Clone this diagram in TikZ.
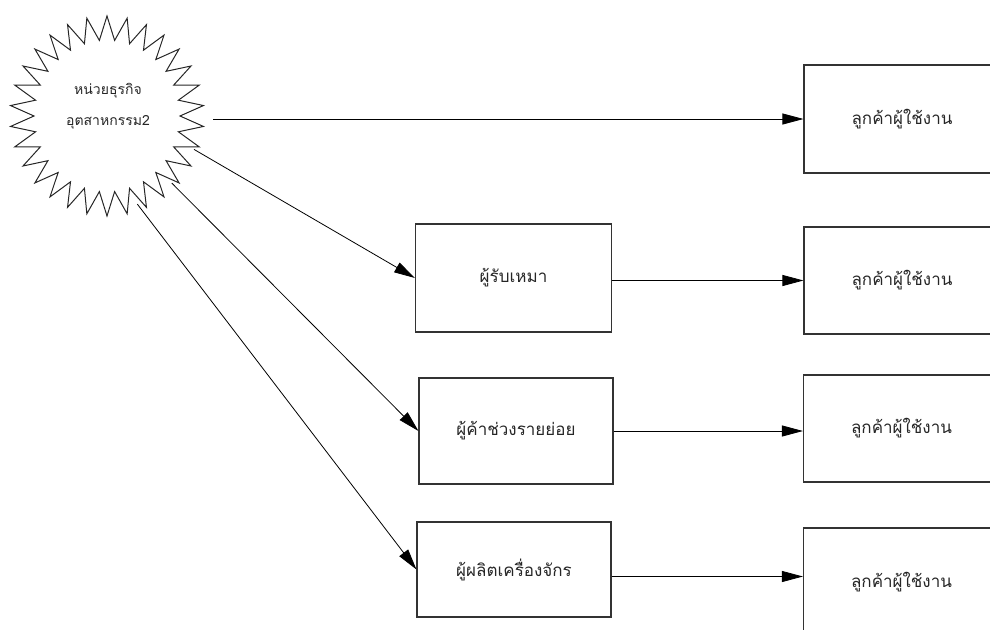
\documentclass[tikz,border=0pt]{standalone}
\usepackage{fontspec}
\newfontfamily\thaifont[Script=Thai]{Loma}
\usetikzlibrary{arrows.meta}

\begin{document}
\begin{tikzpicture}[x=1pt,y=-1pt,
    boxstyle/.style={draw=black!80,line width=1.1pt,rectangle,minimum width=196pt,
      minimum height=107pt,inner sep=0pt,font=\thaifont\fontsize{17}{20}\selectfont,text=black!85},
    burst/.style={draw=black!85,line width=1pt},
    arr/.style={draw=black,line width=0.8pt,-{Triangle[length=21pt,width=11pt]}}]
  \useasboundingbox (0,0) rectangle (990,629);
  \clip (0,0) rectangle (990,629);

  % hub: a sun-like burst (30 points) with two lines of text
  \node[circle,minimum size=186pt,inner sep=0pt] (hub) at (107,116) {};
  \begin{scope}[shift={(hub.center)}]
    \draw[burst] (0,-100)
      \foreach \k in {1,...,59} {
        -- ({(97-24*mod(\k,2))*cos(90+\k*6)},{-(100-24*mod(\k,2))*sin(90+\k*6)}) } -- cycle;
  \end{scope}
  \node[align=center,inner sep=0pt,text=black!85,
        font=\thaifont\fontsize{14}{31}\selectfont] (hubtext) at (108,106)
        {หน่วยธุรกิจ\\อุตสาหกรรม2};
  \coordinate (hubout) at (213,119);

  % intermediaries
  \node[boxstyle,minimum height=108pt] (m2) at (513.5,278) {ผู้รับเหมา};
  \node[boxstyle,minimum height=106pt,minimum width=194pt] (m3) at (516,431) {ผู้ค้าช่วงรายย่อย};
  \node[boxstyle,minimum height=95pt,minimum width=194pt] (m4) at (514,569.5) {ผู้ผลิตเครื่องจักร};

  % end customers
  \node[boxstyle,minimum height=108pt] (c1) at (902,119) {ลูกค้าผู้ใช้งาน};
  \node[boxstyle] (c2) at (902,280.5) {ลูกค้าผู้ใช้งาน};
  \node[boxstyle] (c3) at (901.5,428.5) {ลูกค้าผู้ใช้งาน};
  \node[boxstyle,minimum height=108pt] (c4) at (901.5,582) {ลูกค้าผู้ใช้งาน};

  % flows
  \draw[arr] (hubout) -- (c1.west);
  \draw[arr] (hub.-21) -- (m2.west);
  \draw[arr] (hub.-46) -- (m3.west);
  \draw[arr] (hub.-71) -- (m4.west);
  \draw[arr] (m2.east |- c2.west) -- (c2.west);
  \draw[arr] (m3.east) -- (m3.east -| c3.west);
  \draw[arr] ([yshift=-7pt]m4.east) -- ([yshift=-7pt]m4.east -| c4.west);
\end{tikzpicture}
\end{document}
